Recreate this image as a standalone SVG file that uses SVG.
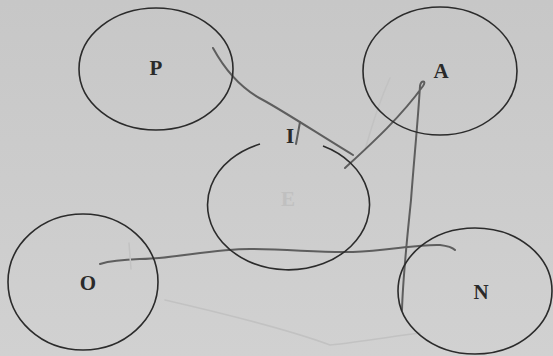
<svg xmlns="http://www.w3.org/2000/svg" width="553" height="356" viewBox="0 0 553 356">
<defs>
<linearGradient id="bg" x1="0" y1="0" x2="0" y2="1">
<stop offset="0" stop-color="#c7c7c7"/>
<stop offset="1" stop-color="#d1d1d1"/>
</linearGradient>
<style>
.node{fill:none;stroke:#2b2b2b;stroke-width:1.6}
.lbl{font-family:"Liberation Serif",serif;font-weight:bold;font-size:21px;fill:#2a2a2a;text-anchor:middle}
.ink{fill:none;stroke:#5e5e5e;stroke-width:2;stroke-linecap:round;stroke-linejoin:round}
.faint{fill:none;stroke:#c2c2c2;stroke-width:1.5;stroke-linecap:round}
</style>
</defs>
<rect width="553" height="356" fill="url(#bg)"/>
<g id="connectors">
<path class="faint" d="M165,300 C230,315 290,330 330,345 C360,342 395,336 420,333"/>
<path class="faint" d="M390,78 C380,100 372,125 365,150" stroke="#c3c3c3"/>
<path class="ink" d="M213,48 C225,70 240,88 263,100 C285,112 320,135 353,155"/>
<path class="ink" d="M345,168 C370,145 400,118 423,86 C427,80 421,80 420,86 C418,120 414,160 411,200 C407,240 403,275 402,310"/>
<path class="ink" d="M100,264 C120,258 140,260 159,258 C190,255 220,249 250,249 C290,249 320,253 353,252 C390,250 420,244 440,245 C448,246 452,247 455,250"/>
<path class="faint" stroke="#9a9a9a" d="M129,243 L131,269"/>
<path class="ink" d="M296,144 L300,122"/>
</g>
<g id="P"><ellipse class="node" cx="156" cy="69" rx="77" ry="61"/><text class="lbl" x="156" y="75">P</text></g>
<g id="A"><ellipse class="node" cx="440" cy="71" rx="77" ry="64"/><text class="lbl" x="441" y="78">A</text></g>
<g id="E"><path class="node" d="M260,144 A81,65 0 1 0 323,146"/><text class="lbl" x="288" y="206" style="fill:#c0c0c0">E</text></g>
<g id="I"><text class="lbl" x="290" y="143">I</text></g>
<g id="O"><ellipse class="node" cx="83" cy="282" rx="75" ry="68"/><text class="lbl" x="88" y="290">O</text></g>
<g id="N"><ellipse class="node" cx="475" cy="291" rx="77" ry="63"/><text class="lbl" x="481" y="299">N</text></g>
</svg>
